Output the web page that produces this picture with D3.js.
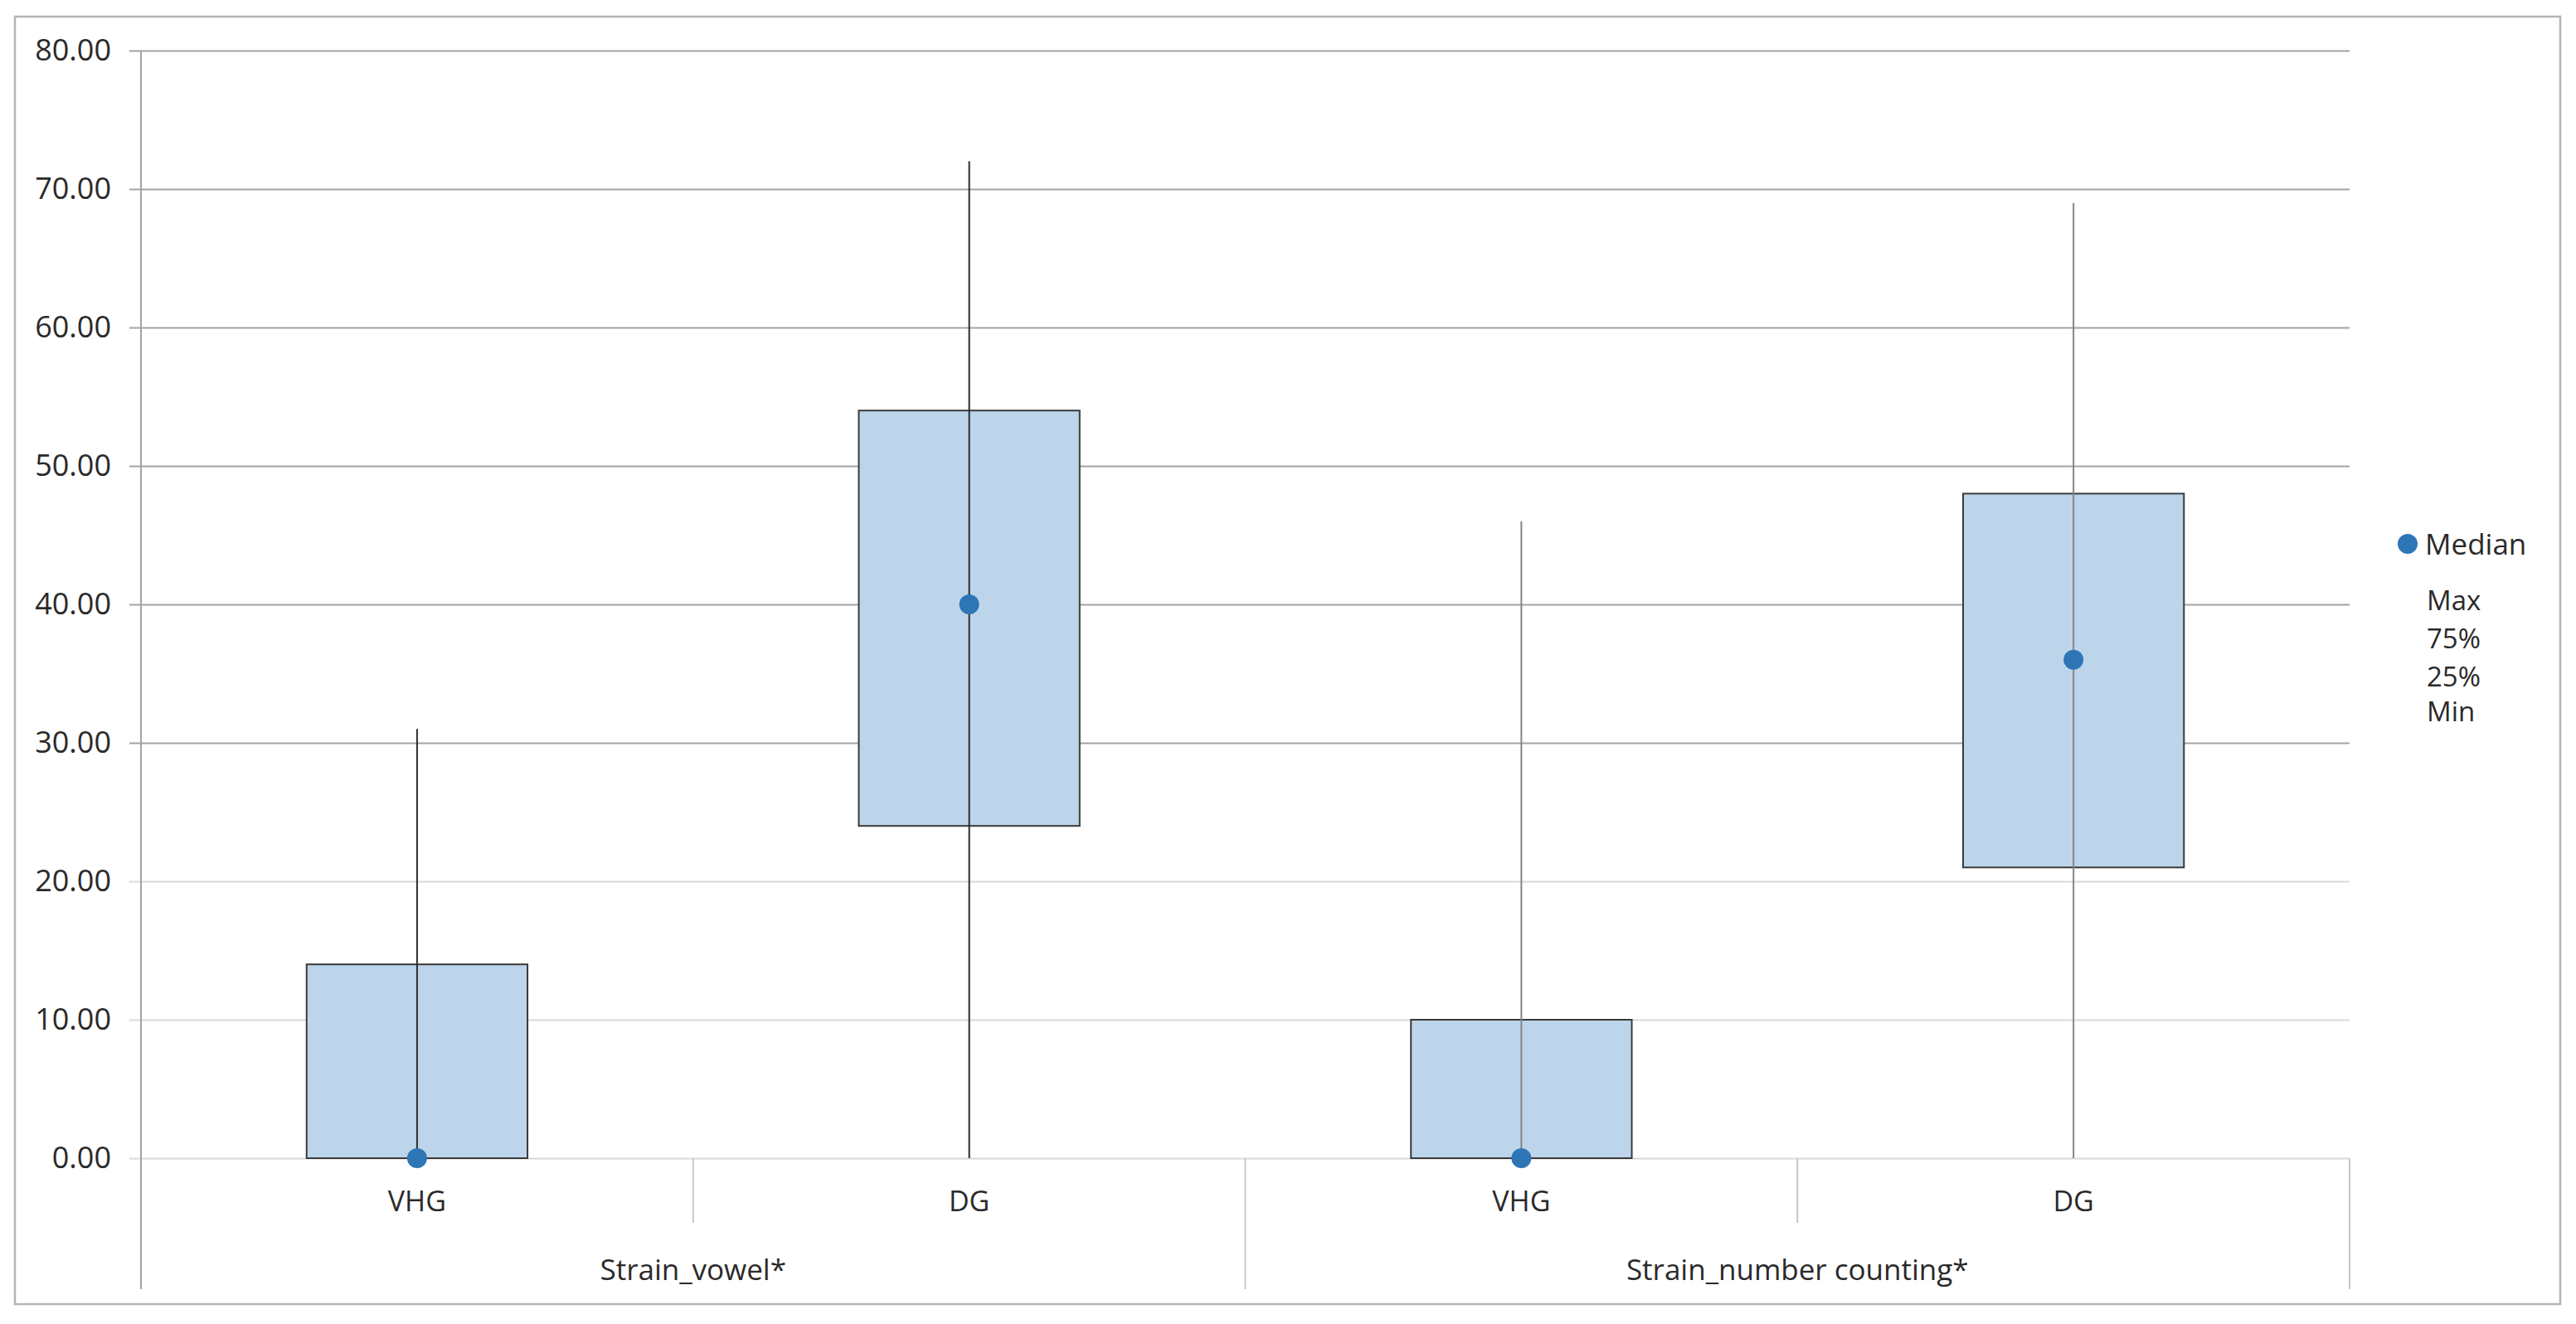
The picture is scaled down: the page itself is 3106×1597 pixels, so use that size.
<!DOCTYPE html>
<html>
<head>
<meta charset="utf-8">
<script src="https://cdn.jsdelivr.net/npm/d3@7"></script>
<style>
  html, body { margin: 0; padding: 0; background: #fff; }
  svg { display: block; }
  text { font-family: "Open Sans", Lato, sans-serif; fill: #2a2a2a; }
</style>
</head>
<body>
<svg id="chart" width="3106" height="1597"></svg>
<script>
// ---- data ----
const groups = ["Strain_vowel*", "Strain_number counting*"];
const categories = ["VHG", "DG", "VHG", "DG"];
const groupOf = [0, 0, 1, 1];
const mins = [0, 0, 0, 0];
const q1s = [0, 24, 0, 21];
const medians = [0, 40, 0, 36];
const q3s = [14, 54, 10, 48];
const maxs = [31, 72, 46, 69];
const yTicks = [0, 10, 20, 30, 40, 50, 60, 70, 80];
const legendItems = ["Max", "75%", "25%", "Min"];

(function () {
// ---- layout ----
const plotL = 170, plotR = 2833, plotT = 61, plotB = 1397;
const svg = d3.select("#chart");

svg.append("rect").attr("x", 18).attr("y", 20).attr("width", 3087 - 18).attr("height", 1573 - 20)
  .attr("fill", "#fff").attr("stroke", "#b4b4b4").attr("stroke-width", 2.5);

const y = d3.scaleLinear().domain([0, 80]).range([plotB, plotT]);
const idx = categories.map((c, i) => i);
const x = d3.scaleBand().domain(idx).range([plotL, plotR]).padding(0);
const boxW = x.bandwidth() * 0.4;

// y axis with gridlines
const yAxis = d3.axisLeft(y).tickValues(yTicks).tickFormat(d3.format(".2f"))
  .tickSizeInner(-(plotR - (plotL - 14))).tickSizeOuter(0).tickPadding(22);
const gy = svg.append("g").attr("transform", `translate(${plotL - 14},0)`).call(yAxis);
gy.select(".domain").remove();
gy.selectAll(".tick line")
  .attr("stroke", d => d >= 30 ? "#a3a3a3" : "#d9d9d9")
  .attr("stroke-width", 2.2);
gy.selectAll(".tick text").style("font-size", "36px").attr("fill", "#2a2a2a")
  .style("font-family", "'Open Sans', Lato, sans-serif");

// vertical axis line
svg.append("line").attr("x1", plotL).attr("x2", plotL).attr("y1", plotT).attr("y2", 1555)
  .attr("stroke", "#a3a3a3").attr("stroke-width", 2);

// category dividers
const bounds = [plotL].concat(idx.map(i => x(i) + x.bandwidth()));
bounds.forEach((b, k) => {
  if (k === 0) return;
  const isGroupEdge = (k % 2 === 0);
  svg.append("line").attr("x1", b).attr("x2", b).attr("y1", plotB).attr("y2", isGroupEdge ? 1555 : 1475)
    .attr("stroke", "#c8c8c8").attr("stroke-width", 2);
});

// category labels
svg.append("g").selectAll("text").data(idx).join("text")
  .attr("x", i => x(i) + x.bandwidth() / 2).attr("y", 1448)
  .attr("text-anchor", "middle").attr("dominant-baseline", "central")
  .style("font-size", "34px").text(i => categories[i]);

// group labels
svg.append("g").selectAll("text").data(groups).join("text")
  .attr("x", (g, gi) => (x(gi * 2) + x(gi * 2 + 1) + x.bandwidth()) / 2).attr("y", 1530)
  .attr("text-anchor", "middle").attr("dominant-baseline", "central")
  .style("font-size", "35px").text(g => g);

// boxes
const whiskerColor = ["#2b2b2b", "#858585"];
const boxes = svg.append("g");
boxes.selectAll("rect").data(idx).join("rect")
  .attr("x", i => x(i) + x.bandwidth() / 2 - boxW / 2)
  .attr("y", i => y(q3s[i]))
  .attr("width", boxW)
  .attr("height", i => y(q1s[i]) - y(q3s[i]))
  .attr("fill", "#bdd5ea").attr("stroke", "#3a3a3a").attr("stroke-width", 2);

boxes.selectAll("line").data(idx).join("line")
  .attr("x1", i => x(i) + x.bandwidth() / 2).attr("x2", i => x(i) + x.bandwidth() / 2)
  .attr("y1", i => y(maxs[i])).attr("y2", i => y(mins[i]))
  .attr("stroke", i => whiskerColor[groupOf[i]]).attr("stroke-width", 2);

boxes.selectAll("circle").data(idx).join("circle")
  .attr("cx", i => x(i) + x.bandwidth() / 2).attr("cy", i => y(medians[i]))
  .attr("r", 12).attr("fill", "#2e75b6");

// legend
const lg = svg.append("g");
lg.append("circle").attr("cx", 2903).attr("cy", 656).attr("r", 12).attr("fill", "#2e75b6");
lg.append("text").attr("x", 2924).attr("y", 655).attr("dominant-baseline", "central")
  .style("font-size", "35px").text("Median");
const legY = [723, 769, 815, 857];
lg.selectAll("text.item").data(legendItems).join("text").attr("class", "item")
  .attr("x", 2926).attr("y", (d, i) => legY[i]).attr("dominant-baseline", "central")
  .style("font-size", "33px").text(d => d);
})();
</script>
</body>
</html>
